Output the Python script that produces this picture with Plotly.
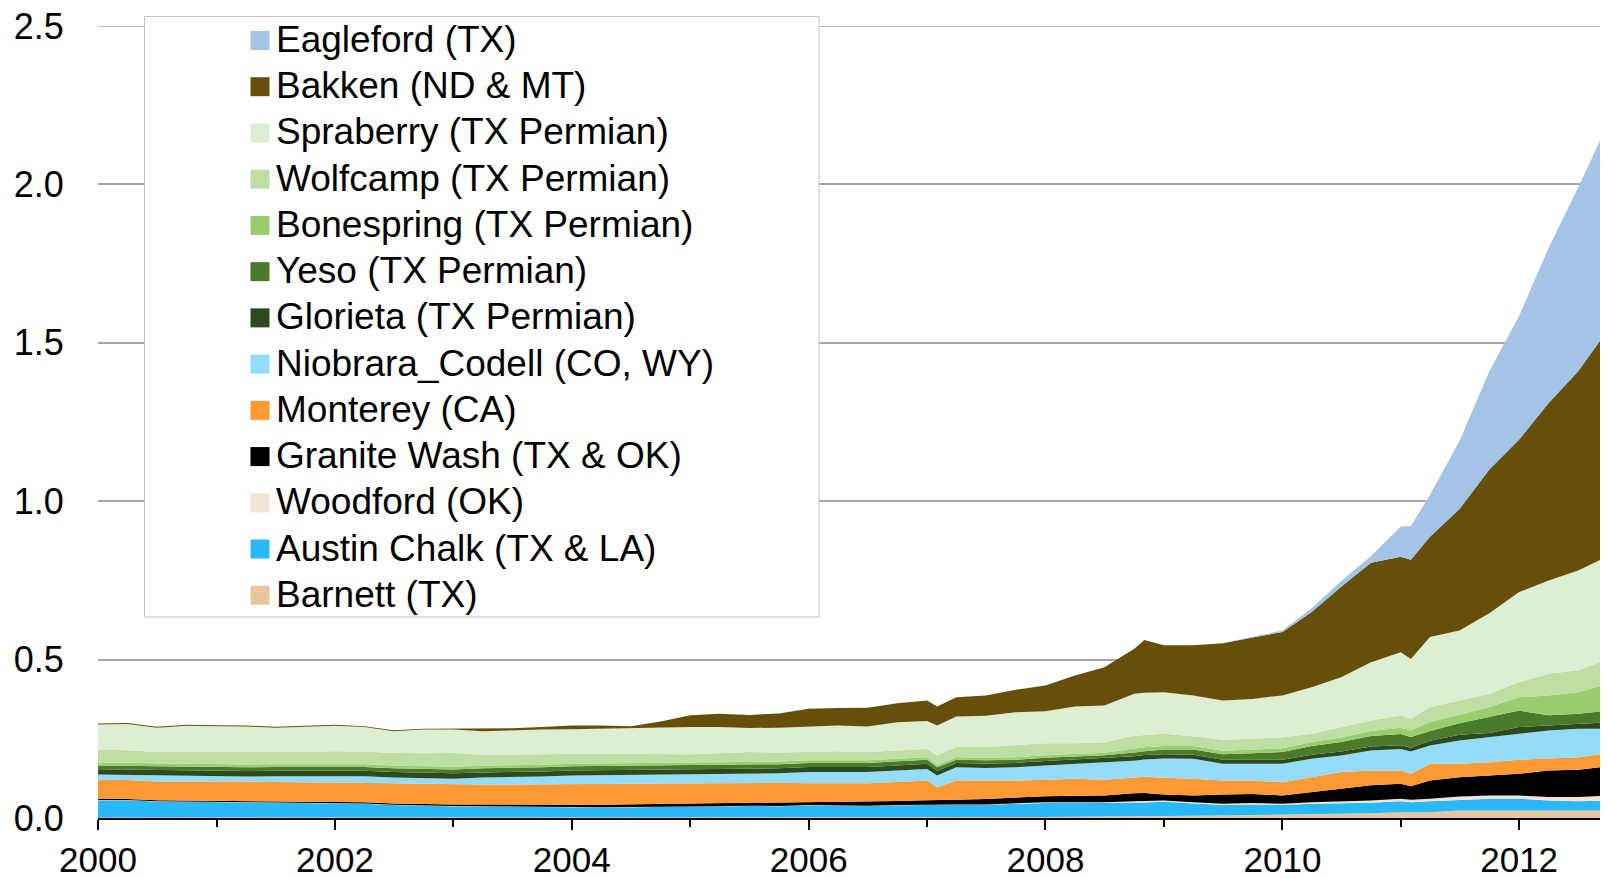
import plotly.graph_objects as go

# ---------------- data (million barrels per day) ----------------
dates = [
    "2000-01-01", "2000-04-01", "2000-07-01", "2000-10-01",
    "2001-01-01", "2001-04-01", "2001-07-01", "2001-10-01",
    "2002-01-01", "2002-04-01", "2002-07-01", "2002-10-01",
    "2003-01-01", "2003-04-01", "2003-07-01", "2003-10-01",
    "2004-01-01", "2004-04-01", "2004-07-01", "2004-10-01",
    "2005-01-01", "2005-04-01", "2005-07-01", "2005-10-01",
    "2006-01-01", "2006-04-01", "2006-07-01", "2006-10-01",
    "2007-01-01", "2007-02-01", "2007-04-01", "2007-07-01", "2007-10-01",
    "2008-01-01", "2008-04-01", "2008-07-01", "2008-10-01", "2008-11-01",
    "2009-01-01", "2009-04-01", "2009-07-01", "2009-10-01",
    "2010-01-01", "2010-04-01", "2010-07-01", "2010-10-01",
    "2011-01-01", "2011-02-01", "2011-04-01", "2011-07-01", "2011-10-01",
    "2012-01-01", "2012-04-01", "2012-07-01", "2012-10-01",
]

barnett = [0.001, 0.001, 0.001, 0.001, 0.001, 0.001, 0.001, 0.001, 0.001, 0.001,
           0.001, 0.001, 0.001, 0.001, 0.001, 0.001, 0.001, 0.001, 0.001, 0.001,
           0.002, 0.002, 0.002, 0.002, 0.002, 0.002, 0.002, 0.002, 0.002, 0.002,
           0.002, 0.002, 0.003, 0.003, 0.004, 0.004, 0.005, 0.005, 0.006, 0.007,
           0.008, 0.010, 0.010, 0.013, 0.014, 0.015, 0.018, 0.018, 0.018, 0.024,
           0.024, 0.024, 0.023, 0.024, 0.024]

austin_chalk = [0.055, 0.055, 0.051, 0.050, 0.048, 0.047, 0.046, 0.046, 0.045, 0.044,
                0.040, 0.037, 0.036, 0.035, 0.034, 0.033, 0.032, 0.032, 0.033, 0.033,
                0.033, 0.034, 0.036, 0.035, 0.038, 0.037, 0.036, 0.038, 0.040, 0.040,
                0.040, 0.040, 0.042, 0.044, 0.043, 0.043, 0.044, 0.044, 0.045, 0.039,
                0.033, 0.033, 0.031, 0.032, 0.033, 0.033, 0.035, 0.032, 0.035, 0.033,
                0.037, 0.037, 0.032, 0.029, 0.031]

woodford = [0.001, 0.001, 0.001, 0.001, 0.001, 0.001, 0.001, 0.001, 0.001, 0.001,
            0.001, 0.001, 0.001, 0.001, 0.001, 0.001, 0.001, 0.001, 0.001, 0.001,
            0.001, 0.001, 0.001, 0.001, 0.001, 0.001, 0.001, 0.001, 0.001, 0.001,
            0.001, 0.001, 0.002, 0.003, 0.003, 0.003, 0.004, 0.004, 0.004, 0.004,
            0.004, 0.004, 0.004, 0.005, 0.006, 0.007, 0.008, 0.008, 0.008, 0.011,
            0.010, 0.010, 0.011, 0.013, 0.016]

granite_wash = [0.003, 0.003, 0.003, 0.003, 0.003, 0.003, 0.003, 0.003, 0.003, 0.004,
                0.004, 0.005, 0.005, 0.006, 0.006, 0.007, 0.008, 0.008, 0.008, 0.009,
                0.009, 0.009, 0.009, 0.010, 0.009, 0.011, 0.014, 0.013, 0.013, 0.013,
                0.015, 0.017, 0.017, 0.019, 0.020, 0.021, 0.025, 0.026, 0.019, 0.021,
                0.029, 0.029, 0.026, 0.032, 0.039, 0.048, 0.047, 0.042, 0.057, 0.061,
                0.063, 0.069, 0.084, 0.086, 0.092]

monterey = [0.061, 0.060, 0.059, 0.061, 0.062, 0.063, 0.063, 0.063, 0.064, 0.063,
            0.064, 0.064, 0.063, 0.063, 0.064, 0.064, 0.064, 0.065, 0.065, 0.065,
            0.065, 0.065, 0.064, 0.063, 0.060, 0.060, 0.057, 0.060, 0.062, 0.041,
            0.060, 0.058, 0.054, 0.052, 0.054, 0.050, 0.051, 0.051, 0.053, 0.053,
            0.044, 0.042, 0.042, 0.047, 0.053, 0.047, 0.042, 0.040, 0.053, 0.042,
            0.042, 0.044, 0.037, 0.040, 0.042]

niobrara_codell = [0.016, 0.016, 0.018, 0.016, 0.016, 0.016, 0.018, 0.018, 0.019, 0.019,
                   0.018, 0.018, 0.018, 0.022, 0.023, 0.025, 0.028, 0.028, 0.028, 0.028,
                   0.029, 0.029, 0.029, 0.030, 0.035, 0.035, 0.035, 0.036, 0.037, 0.037,
                   0.042, 0.040, 0.042, 0.045, 0.047, 0.053, 0.052, 0.055, 0.061, 0.063,
                   0.053, 0.053, 0.058, 0.058, 0.052, 0.063, 0.068, 0.070, 0.058, 0.074,
                   0.079, 0.082, 0.089, 0.090, 0.077]

glorieta = [0.017, 0.017, 0.017, 0.017, 0.017, 0.017, 0.017, 0.017, 0.017, 0.017,
            0.017, 0.017, 0.017, 0.016, 0.016, 0.016, 0.016, 0.016, 0.016, 0.016,
            0.016, 0.016, 0.016, 0.016, 0.016, 0.016, 0.016, 0.016, 0.016, 0.014,
            0.014, 0.014, 0.014, 0.014, 0.014, 0.014, 0.014, 0.014, 0.013, 0.013,
            0.013, 0.013, 0.013, 0.013, 0.013, 0.013, 0.012, 0.012, 0.015, 0.018,
            0.013, 0.021, 0.016, 0.017, 0.020]

yeso = [0.012, 0.012, 0.012, 0.012, 0.012, 0.012, 0.012, 0.012, 0.012, 0.012,
        0.012, 0.012, 0.012, 0.013, 0.013, 0.013, 0.013, 0.013, 0.013, 0.013,
        0.013, 0.013, 0.013, 0.013, 0.013, 0.013, 0.013, 0.013, 0.013, 0.012,
        0.010, 0.010, 0.010, 0.010, 0.010, 0.010, 0.012, 0.012, 0.015, 0.016,
        0.017, 0.020, 0.024, 0.027, 0.030, 0.033, 0.035, 0.034, 0.031, 0.036,
        0.050, 0.052, 0.032, 0.030, 0.037]

bonespring = [0.009, 0.009, 0.009, 0.009, 0.009, 0.009, 0.009, 0.009, 0.009, 0.009,
              0.009, 0.009, 0.009, 0.008, 0.008, 0.008, 0.008, 0.008, 0.008, 0.008,
              0.008, 0.008, 0.008, 0.008, 0.008, 0.008, 0.008, 0.008, 0.008, 0.007,
              0.008, 0.008, 0.008, 0.008, 0.008, 0.008, 0.012, 0.012, 0.011, 0.011,
              0.011, 0.011, 0.012, 0.013, 0.014, 0.016, 0.020, 0.020, 0.028, 0.027,
              0.032, 0.042, 0.063, 0.068, 0.085]

wolfcamp = [0.041, 0.040, 0.037, 0.039, 0.041, 0.041, 0.038, 0.040, 0.040, 0.040,
            0.039, 0.040, 0.043, 0.035, 0.035, 0.034, 0.032, 0.031, 0.029, 0.027,
            0.025, 0.027, 0.030, 0.029, 0.028, 0.028, 0.026, 0.026, 0.026, 0.030,
            0.032, 0.034, 0.037, 0.038, 0.033, 0.033, 0.041, 0.039, 0.039, 0.031,
            0.035, 0.035, 0.035, 0.026, 0.033, 0.033, 0.039, 0.037, 0.047, 0.045,
            0.042, 0.048, 0.068, 0.069, 0.078]

spraberry = [0.079, 0.083, 0.077, 0.082, 0.080, 0.079, 0.077, 0.079, 0.080, 0.077,
             0.069, 0.075, 0.074, 0.074, 0.076, 0.077, 0.077, 0.079, 0.082, 0.085,
             0.086, 0.083, 0.076, 0.078, 0.079, 0.081, 0.081, 0.089, 0.088, 0.095,
             0.096, 0.099, 0.105, 0.101, 0.116, 0.116, 0.132, 0.133, 0.131, 0.129,
             0.124, 0.126, 0.132, 0.147, 0.157, 0.184, 0.199, 0.189, 0.221, 0.221,
             0.254, 0.284, 0.295, 0.315, 0.325]

bakken = [0.003, 0.003, 0.003, 0.003, 0.003, 0.003, 0.003, 0.003, 0.003, 0.003,
          0.003, 0.003, 0.003, 0.008, 0.006, 0.008, 0.012, 0.010, 0.006, 0.019,
          0.037, 0.042, 0.041, 0.045, 0.056, 0.055, 0.059, 0.060, 0.065, 0.060,
          0.061, 0.064, 0.071, 0.081, 0.098, 0.121, 0.142, 0.167, 0.148, 0.158,
          0.181, 0.194, 0.200, 0.237, 0.286, 0.314, 0.302, 0.313, 0.317, 0.383,
          0.454, 0.482, 0.560, 0.629, 0.715]

eagleford = [0.0, 0.0, 0.0, 0.0, 0.0, 0.0, 0.0, 0.0, 0.0, 0.0,
             0.0, 0.0, 0.0, 0.0, 0.0, 0.0, 0.0, 0.0, 0.0, 0.0,
             0.0, 0.0, 0.0, 0.0, 0.0, 0.0, 0.0, 0.0, 0.0, 0.0,
             0.0, 0.0, 0.0, 0.0, 0.0, 0.0, 0.0, 0.0, 0.0, 0.0,
             0.0, 0.002, 0.005, 0.012, 0.018, 0.021, 0.095, 0.107, 0.132, 0.215,
             0.310, 0.390, 0.490, 0.580, 0.650]

# stacking order: bottom -> top
series_names = ["Barnett (TX)", "Austin Chalk (TX & LA)", "Woodford (OK)",
                "Granite Wash (TX & OK)", "Monterey (CA)", "Niobrara_Codell (CO, WY)",
                "Glorieta (TX Permian)", "Yeso (TX Permian)", "Bonespring (TX Permian)",
                "Wolfcamp (TX Permian)", "Spraberry (TX Permian)", "Bakken (ND & MT)",
                "Eagleford (TX)"]
series_values = [barnett, austin_chalk, woodford, granite_wash, monterey, niobrara_codell,
                 glorieta, yeso, bonespring, wolfcamp, spraberry, bakken, eagleford]
series_colors = ["#E9C59F", "#29B8F8", "#F2E3D3", "#000000", "#FF9933", "#93DDFB",
                 "#2D4A1E", "#4A7A2A", "#9ACD6E", "#BDDFA4", "#DDEED3", "#664F0A",
                 "#A3C4E6"]

y_ticks = [0.0, 0.5, 1.0, 1.5, 2.0, 2.5]

# ---------------- figure ----------------
# The page body has an 8px margin, so the figure is drawn 8px smaller and
# every pixel position below is given in page pixels minus that offset.
OFF = 8
W, H = 1608 - OFF, 879 - OFF
L, R, T, B = 98 - OFF, 0, 26 - OFF, 61
FONT = "Liberation Sans, Arial, sans-serif"

fig = go.Figure()
for name, vals, col in zip(series_names, series_values, series_colors):
    fig.add_trace(go.Scatter(
        x=dates, y=vals, name=name, mode="lines",
        line=dict(width=0, color=col), fillcolor=col,
        stackgroup="one", showlegend=False, hoverinfo="skip",
    ))

fig.update_layout(
    width=W, height=H,
    margin=dict(l=L, r=R, t=T, b=B, autoexpand=False),
    paper_bgcolor="white", plot_bgcolor="white",
    font=dict(family=FONT, color="black", size=36),
    showlegend=False,
)

fig.update_xaxes(
    type="date", range=[dates[0], dates[-1]],
    showgrid=False, zeroline=False, automargin=False,
    showline=True, linecolor="black", linewidth=2,
    ticks="outside", ticklen=10, tickwidth=2, tickcolor="black",
    tick0="2000-01-01", dtick="M24", tickformat="%Y",
    ticklabeloverflow="allow",
    tickfont=dict(size=35, family=FONT, color="black"),
    minor=dict(dtick="M12", ticks="outside", ticklen=7, tickwidth=2,
               tickcolor="black", showgrid=False),
)
fig.update_yaxes(
    range=[0, 2.5], tickvals=y_ticks, tickformat=".1f",
    showgrid=True, gridcolor="#A6A6A6", gridwidth=1.5,
    zeroline=False, showline=False, automargin=False,
    ticks="outside", ticklen=26, tickcolor="rgba(0,0,0,0)",
    ticklabeloverflow="allow",
    tickfont=dict(size=36, family=FONT, color="black"),
)

# ---------------- legend box drawn in pixel positions ----------------
PW, PH = W - L - R, H - T - B


def px_x(px):
    return (px - OFF - L) / PW


def px_y(py):
    return (H - B - (py - OFF)) / PH


shapes = [
    # top gridline at 2.5 (range edge)
    dict(type="line", xref="paper", yref="y", x0=0, x1=1, y0=2.5, y1=2.5,
         line=dict(color="#A6A6A6", width=1.5), layer="below"),
    dict(type="rect", xref="paper", yref="paper",
         x0=px_x(144.5), x1=px_x(819), y0=px_y(617), y1=px_y(16.5),
         line=dict(color="#C4C4C4", width=1), fillcolor="white", layer="above"),
]
annotations = []
legend_order = list(range(len(series_names)))[::-1]  # top of stack first
for row, idx in enumerate(legend_order):
    cy = 39.5 + row * 46.23
    shapes.append(dict(type="rect", xref="paper", yref="paper",
                       x0=px_x(250.5), x1=px_x(269.5),
                       y0=px_y(cy + 10.5), y1=px_y(cy - 8.5),
                       line=dict(width=0), fillcolor=series_colors[idx], layer="above"))
    annotations.append(dict(xref="paper", yref="paper", x=px_x(274), y=px_y(cy),
                            xanchor="left", yanchor="middle", showarrow=False,
                            text=series_names[idx],
                            font=dict(family=FONT, size=37, color="black")))

fig.update_layout(shapes=shapes, annotations=annotations)

fig.write_html("out.html")
